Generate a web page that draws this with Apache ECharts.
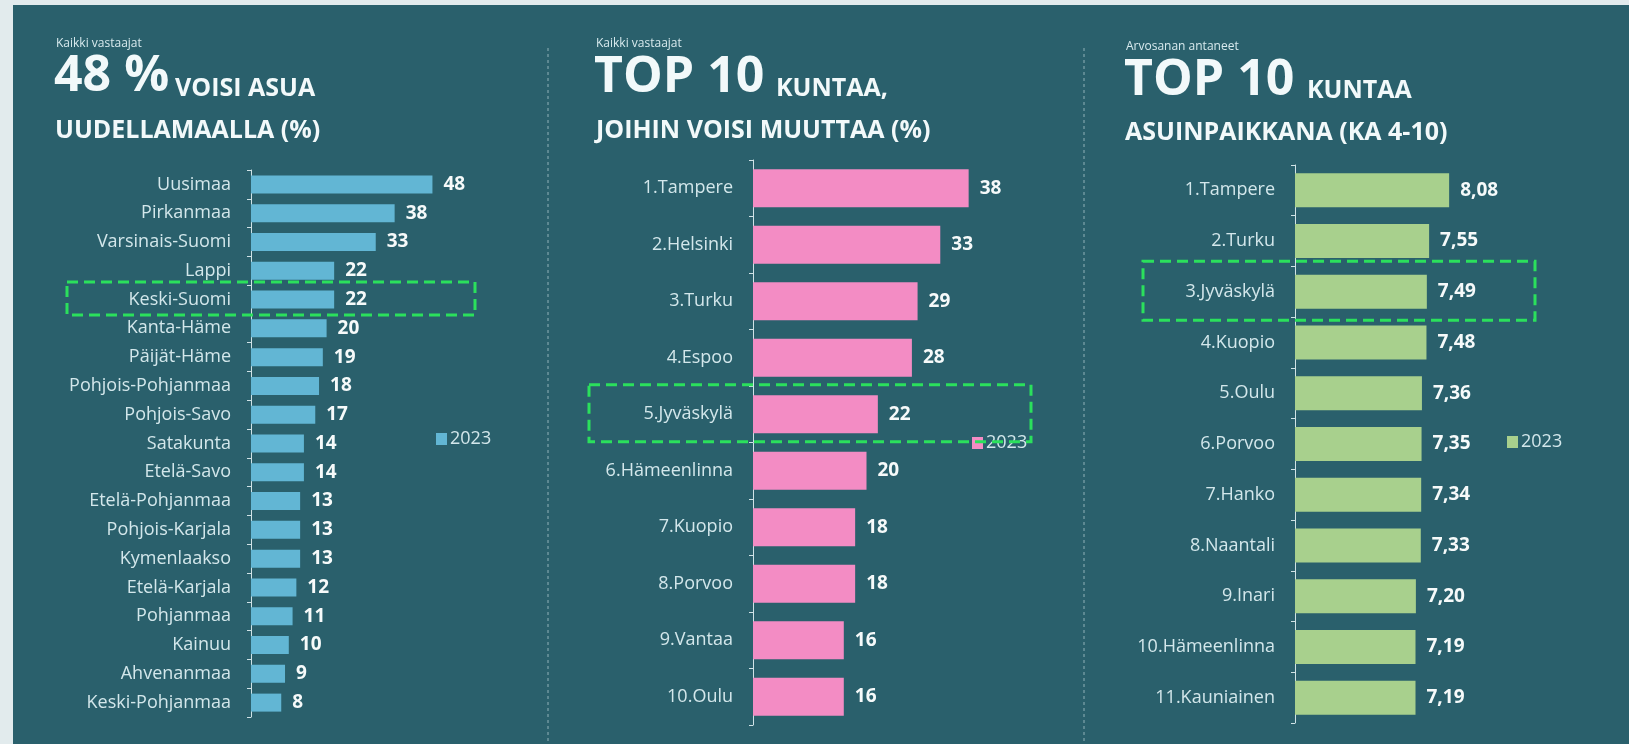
<!DOCTYPE html>
<html><head><meta charset="utf-8">
<script src="https://cdn.jsdelivr.net/npm/echarts@6/dist/echarts.min.js"></script>
<style>html,body{margin:0;padding:0;background:#e2ebed;}#c{width:1629px;height:744px;}</style>
</head><body><div id="c"></div>
<script>
// ---- data ----
const regions = ['Uusimaa','Pirkanmaa','Varsinais-Suomi','Lappi','Keski-Suomi','Kanta-Häme','Päijät-Häme','Pohjois-Pohjanmaa','Pohjois-Savo','Satakunta','Etelä-Savo','Etelä-Pohjanmaa','Pohjois-Karjala','Kymenlaakso','Etelä-Karjala','Pohjanmaa','Kainuu','Ahvenanmaa','Keski-Pohjanmaa'];
const regionValues = [48,38,33,22,22,20,19,18,17,14,14,13,13,13,12,11,10,9,8];
const moveCities = ['1.Tampere','2.Helsinki','3.Turku','4.Espoo','5.Jyväskylä','6.Hämeenlinna','7.Kuopio','8.Porvoo','9.Vantaa','10.Oulu'];
const moveValues = [38,33,29,28,22,20,18,18,16,16];
const gradeCities = ['1.Tampere','2.Turku','3.Jyväskylä','4.Kuopio','5.Oulu','6.Porvoo','7.Hanko','8.Naantali','9.Inari','10.Hämeenlinna','11.Kauniainen'];
const gradeValues = [8.08,7.55,7.49,7.48,7.36,7.35,7.34,7.33,7.20,7.19,7.19];
const seriesName = '2023';
const highlight = ['Keski-Suomi','5.Jyväskylä','3.Jyväskylä'];

const BG = '#2a606c';
const FONT = '"Open Sans", sans-serif';
const LABEL = '#d3e7eb';
const AXIS = '#cfe2e6';
const colors = ['#62b6d4','#f38cc4','#a8d08d'];

const chart = echarts.init(document.getElementById('c'));

function yAx(gi, cats){
  return {type:'category', gridIndex:gi, data:cats, inverse:true,
    axisLine:{show:true,lineStyle:{color:AXIS,width:1}},
    axisTick:{show:true,length:4,lineStyle:{color:AXIS}},
    axisLabel:{color:LABEL,fontSize:18,fontFamily:FONT,margin:20},
    splitLine:{show:false}};
}
function xAx(gi,min,max){
  return {type:'value',gridIndex:gi,min:min,max:max,show:false,splitLine:{show:false}};
}
function ser(i,data,barW,fmt){
  return {type:'bar',name:seriesName,xAxisIndex:i,yAxisIndex:i,data:data,barWidth:barW,
    itemStyle:{color:colors[i]},
    label:{show:true,position:'right',distance:11,color:'#f6fafa',fontWeight:'bold',fontSize:19,fontFamily:FONT,
      formatter:fmt||(p=>String(p.value))}};
}
function leg(i,left,top){
  return {left:left,top:top,orient:'vertical',itemWidth:11,itemHeight:12,itemGap:0,padding:0,
    selectedMode:false,
    textStyle:{color:LABEL,fontSize:18,fontFamily:FONT,padding:[0,0,0,-2]},
    data:[{name:seriesName,itemStyle:{color:colors[i]},icon:'rect'}]};
}
function txt(x,y,s,size,weight,color){
  return {type:'text',x:x,y:y,z:10,style:{text:s,fill:color||'#f2f9fa',font:(weight||'bold')+' '+size+'px "Open Sans", sans-serif',verticalAlign:'middle',align:'left'}};
}
function vline(x){
  return {type:'line',z:1,shape:{x1:x,y1:48,x2:x,y2:744},style:{stroke:'rgba(214,232,236,0.6)',lineWidth:1,lineDash:[3,3]}};
}

const option = {
  backgroundColor:'#e2ebed',
  animation:false,
  grid:[
    {left:251, top:170, width:189, height:547},
    {left:753, top:160, width:227, height:565},
    {left:1295, top:165, width:170, height:558}
  ],
  xAxis:[xAx(0,0,50), xAx(1,0,40), xAx(2,4,8.5)],
  yAxis:[yAx(0,regions), yAx(1,moveCities), yAx(2,gradeCities)],
  legend:[leg(0,436,430), leg(1,972,434), leg(2,1507,433)],
  series:[
    ser(0,regionValues,18),
    ser(1,moveValues,38),
    ser(2,gradeValues,34,p=>p.value.toFixed(2).replace('.',','))
  ],
  graphic:[
    {type:'rect',z:0,shape:{x:13,y:5,width:1616,height:739},style:{fill:BG}},
    vline(548), vline(1084),
    txt(56,44,'Kaikki vastaajat',12,'normal','#d8eaee'),
    txt(54,77,'48 %',50),
    txt(175,89,'VOISI ASUA',25),
    txt(55,131,'UUDELLAMAALLA (%)',25),
    txt(596,44,'Kaikki vastaajat',12,'normal','#d8eaee'),
    txt(594,78,'TOP 10',50),
    txt(776,89,'KUNTAA,',25),
    txt(596,131,'JOIHIN VOISI MUUTTAA (%)',25),
    txt(1126,47,'Arvosanan antaneet',12,'normal','#d8eaee'),
    txt(1124,81,'TOP 10',50),
    txt(1307,91,'KUNTAA',25),
    txt(1125,133,'ASUINPAIKKANA (KA 4-10)',25)
  ]
};
chart.setOption(option);

// highlight boxes around the Jyväskylä / Keski-Suomi rows
const boxes = [
  {gi:0, x1:67, x2:475, h:33},
  {gi:1, x1:589, x2:1031, h:57},
  {gi:2, x1:1143, x2:1535, h:59}
];
const extra = boxes.map((b,i)=>{
  const cy = chart.convertToPixel({yAxisIndex:b.gi}, highlight[i]);
  return {type:'rect',z:20,shape:{x:b.x1,y:cy-b.h/2-1,width:b.x2-b.x1,height:b.h},
    style:{fill:'none',stroke:'#2be05c',lineWidth:3,lineDash:[11,6]}};
});
chart.setOption({graphic:option.graphic.concat(extra)});
</script></body></html>
